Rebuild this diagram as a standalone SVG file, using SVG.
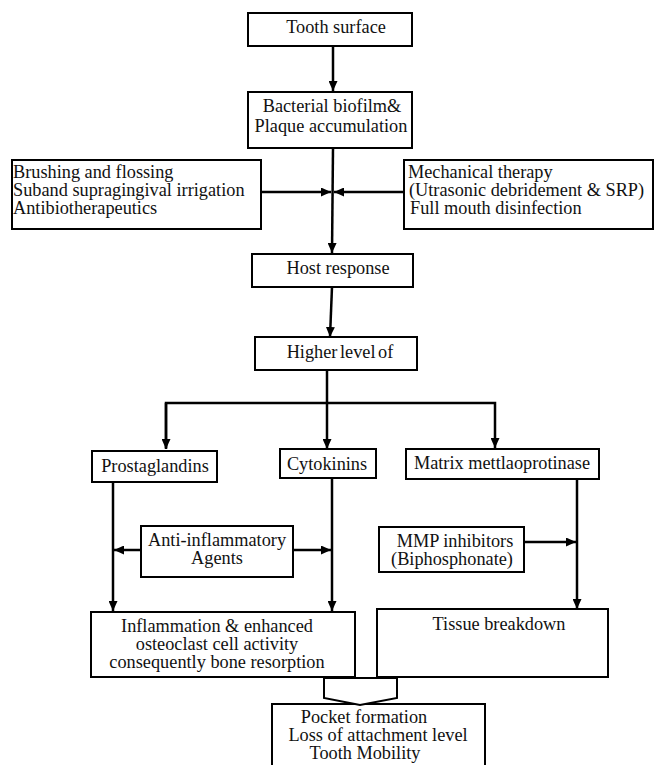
<svg xmlns="http://www.w3.org/2000/svg" width="654" height="765" viewBox="0 0 654 765">
<style>
.box{fill:#fff;stroke:#000;stroke-width:2}
text{font-family:'Liberation Serif','Times New Roman','DejaVu Serif',serif;font-size:18.3px;fill:#111}
.m{text-anchor:middle}
.c{fill:none;stroke:#000;stroke-width:2.5}
</style>
<defs>
<marker id="ah" markerUnits="userSpaceOnUse" markerWidth="10" markerHeight="9" refX="10" refY="4.5" orient="auto">
<path d="M0,0 L10,4.5 L0,9 z" fill="#000"/>
</marker>
</defs>
<rect width="654" height="765" fill="#fff"/>
<g id="connectors">
<line class="c" x1="333" y1="46" x2="333" y2="91" marker-end="url(#ah)"/>
<line class="c" x1="333" y1="148" x2="332" y2="253" marker-end="url(#ah)"/>
<line class="c" x1="261" y1="192" x2="331" y2="192" marker-end="url(#ah)"/>
<line class="c" x1="404" y1="192" x2="334" y2="192" marker-end="url(#ah)"/>
<line class="c" x1="332" y1="287" x2="330" y2="337" marker-end="url(#ah)"/>
<line class="c" x1="327" y1="370" x2="327" y2="403"/>
<polyline class="c" points="166,448 166,403 495,403 495,448" marker-end="url(#ah)"/>
<line class="c" x1="166" y1="403" x2="166" y2="449" marker-end="url(#ah)"/>
<line class="c" x1="327" y1="403" x2="327" y2="449" marker-end="url(#ah)"/>
<line class="c" x1="113" y1="482" x2="113" y2="611" marker-end="url(#ah)"/>
<line class="c" x1="332" y1="478" x2="332" y2="611" marker-end="url(#ah)"/>
<line class="c" x1="577" y1="479" x2="577" y2="609" marker-end="url(#ah)"/>
<line class="c" x1="141" y1="550" x2="114" y2="550" marker-end="url(#ah)"/>
<line class="c" x1="293" y1="550" x2="331" y2="550" marker-end="url(#ah)"/>
<line class="c" x1="524" y1="542" x2="576" y2="542" marker-end="url(#ah)"/>
</g>
<g id="n-tooth">
<rect class="box" x="248" y="13" width="164" height="33"/>
<text class="m" x="336" y="33">Tooth surface</text>
</g>
<g id="n-biofilm">
<rect class="box" x="248" y="92" width="164" height="56"/>
<text class="m" x="332" y="112">Bacterial biofilm&amp;</text>
<text class="m" x="331" y="132">Plaque accumulation</text>
</g>
<g id="n-brushing">
<rect class="box" x="12" y="160" width="249" height="69"/>
<text x="13" y="178">Brushing and flossing</text>
<text x="13" y="196">Suband supragingival irrigation</text>
<text x="13" y="214">Antibiotherapeutics</text>
</g>
<g id="n-mechanical">
<rect class="box" x="404" y="160" width="249" height="69"/>
<text x="408" y="178">Mechanical therapy</text>
<text x="409" y="196">(Utrasonic debridement &amp; SRP)</text>
<text x="410" y="214">Full mouth disinfection</text>
</g>
<g id="n-host">
<rect class="box" x="252" y="254" width="161" height="33"/>
<text class="m" x="338" y="274">Host response</text>
</g>
<g id="n-higher">
<rect class="box" x="255" y="337" width="162" height="33"/>
<text class="m" x="340" y="358" word-spacing="-2">Higher level of</text>
</g>
<g id="n-prostaglandins">
<rect class="box" x="92" y="451" width="125" height="31"/>
<text class="m" x="155" y="472">Prostaglandins</text>
</g>
<g id="n-cytokinins">
<rect class="box" x="280" y="449" width="96" height="29"/>
<text class="m" x="327" y="470">Cytokinins</text>
</g>
<g id="n-mmp">
<rect class="box" x="406" y="449" width="193" height="30"/>
<text class="m" x="502" y="469">Matrix mettlaoprotinase</text>
</g>
<g id="n-antiinflammatory">
<rect class="box" x="141" y="526" width="152" height="51"/>
<text class="m" x="217" y="546">Anti-inflammatory</text>
<text class="m" x="217" y="564">Agents</text>
</g>
<g id="n-mmpinhibitors">
<rect class="box" x="379" y="527" width="145" height="45"/>
<text class="m" x="455" y="547">MMP inhibitors</text>
<text class="m" x="452" y="565">(Biphosphonate)</text>
</g>
<g id="n-inflammation">
<rect class="box" x="91" y="612" width="264" height="65"/>
<text class="m" x="217" y="632">Inflammation &amp; enhanced</text>
<text class="m" x="217" y="650">osteoclast cell activity</text>
<text class="m" x="217" y="668">consequently bone resorption</text>
</g>
<g id="n-tissue">
<rect class="box" x="377" y="609" width="231" height="68"/>
<text class="m" x="499" y="630">Tissue breakdown</text>
</g>
<g id="n-pocket">
<rect class="box" x="272" y="704" width="213" height="62"/>
<text class="m" x="364" y="723">Pocket formation</text>
<text class="m" x="378" y="741">Loss of attachment level</text>
<text class="m" x="365" y="759">Tooth Mobility</text>
</g>
<g id="block-arrow">
<polygon points="324,678 397,678 397,698 360,705 324,698" fill="#fff" stroke="#000" stroke-width="2"/>
</g>
</svg>
